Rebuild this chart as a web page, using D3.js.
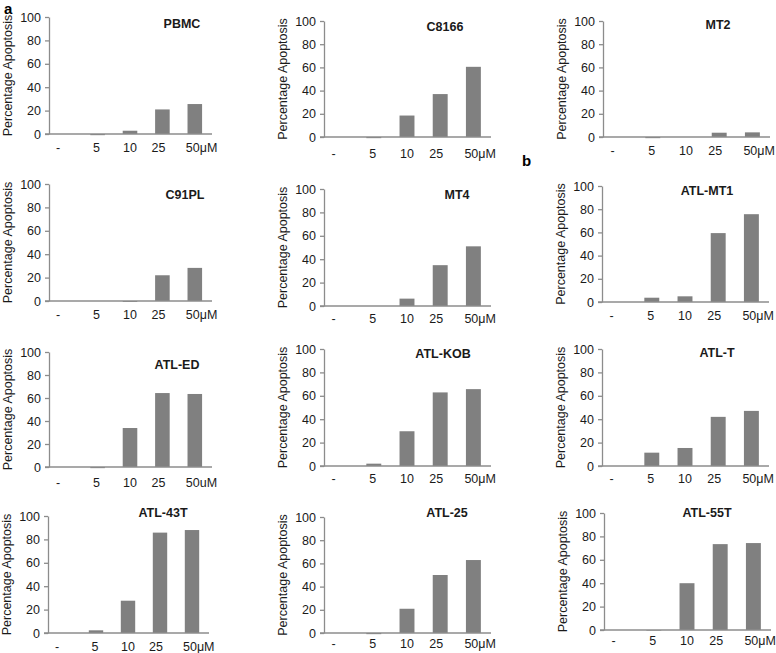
<!DOCTYPE html>
<html><head><meta charset="utf-8">
<script src="https://cdn.jsdelivr.net/npm/d3@7"></script>
<style>
html,body{margin:0;padding:0;background:#fff;}
svg{display:block;font-family:"Liberation Sans",Arial,sans-serif;}
</style></head>
<body><svg id="c" width="776" height="653"></svg>
<script>
// ---- data ----
const categories = ["-", "5", "10", "25", "50"];
const cellLines = ["PBMC","C8166","MT2","C91PL","MT4","ATL-MT1","ATL-ED","ATL-KOB","ATL-T","ATL-43T","ATL-25","ATL-55T"];
const unitSuffix = ["μM","μM","μM","μM","μM","μM","uM","μM","μM","μM","μM","μM"];
const valPBMC   = [0, -1, 2.8, 21, 25.6];
const valC8166  = [0, -1, 18.5, 37, 60.5];
const valMT2    = [0, -1, 0, 3.7, 4];
const valC91PL  = [0, 0, -0.8, 22, 28.3];
const valMT4    = [0, 0, 6.3, 34.9, 51];
const valATLMT1 = [0, 3.7, 4.9, 59.4, 75.7];
const valATLED  = [0, -1, 33.9, 64.3, 63.5];
const valATLKOB = [0, 2, 29.7, 62.9, 65.7];
const valATLT   = [0, 11.4, 15.4, 42, 47.1];
const valATL43T = [0, 2.3, 27.6, 85.8, 88];
const valATL25  = [0, -1, 20.9, 50, 62.9];
const valATL55T = [0, -0.5, 40, 73.4, 74.3];
const seriesValues = [valPBMC,valC8166,valMT2,valC91PL,valMT4,valATLMT1,valATLED,valATLKOB,valATLT,valATL43T,valATL25,valATL55T];
const yTicks = [0, 20, 40, 60, 80, 100];
const yTitle = "Percentage Apoptosis";
const panelLetters = ["a", "b"];

// ---- layout (positions / styles only) ----
const layout = [
  {x0:49,  top:17,  bot:134, w:162, tdx:133, tdy:7,  ldy:13},
  {x0:324, top:21,  bot:137, w:166, tdx:121, tdy:6,  ldy:16},
  {x0:603, top:21,  bot:137, w:166, tdx:115, tdy:4,  ldy:13},
  {x0:49,  top:184, bot:301, w:162, tdx:136, tdy:11, ldy:13},
  {x0:324, top:189, bot:306, w:166, tdx:133, tdy:6,  ldy:12},
  {x0:602, top:186, bot:302, w:166, tdx:105, tdy:5,  ldy:13},
  {x0:49,  top:352, bot:467, w:162, tdx:128, tdy:13, ldy:15},
  {x0:324, top:349, bot:466, w:166, tdx:119, tdy:5,  ldy:12},
  {x0:602, top:349, bot:466, w:166, tdx:115, tdy:4,  ldy:12},
  {x0:48,  top:516, bot:633, w:160, tdx:115, tdy:-3, ldy:13},
  {x0:324, top:517, bot:633, w:166, tdx:123, tdy:-4, ldy:10},
  {x0:604, top:513, bot:630, w:166, tdx:103, tdy:0,  ldy:10}
];
const labelShift = [-7, -1, 0, -4, -9];
const letterPos = [[4, 14], [522, 166]];
const barColor = "#808080", axisColor = "#8c8c8c", textColor = "#1a1a1a";
const fs = 12.5;

const svg = d3.select("#c");

cellLines.forEach((name, i) => {
  const L = layout[i];
  const vals = seriesValues[i];
  const x = d3.scaleBand().domain(categories).range([L.x0, L.x0 + L.w]).paddingInner(0.55).paddingOuter(0.275);
  const y = d3.scaleLinear().domain([0, 100]).range([L.bot, L.top]);
  const g = svg.append("g");

  // bars
  g.selectAll("rect").data(categories.map((c, k) => ({c, v: vals[k]}))).join("rect")
    .attr("x", d => x(d.c))
    .attr("width", x.bandwidth())
    .attr("y", d => Math.min(y(d.v), y(0)))
    .attr("height", d => Math.abs(y(d.v) - y(0)))
    .attr("fill", barColor);

  // y axis
  const ya = d3.axisLeft(y).tickValues(yTicks).tickSize(4).tickPadding(4).tickSizeOuter(0);
  const yg = g.append("g").attr("transform", `translate(${L.x0},0)`).call(ya);
  yg.select(".domain").attr("stroke", axisColor).attr("stroke-width", 1.3);
  yg.selectAll(".tick line").attr("stroke", axisColor).attr("stroke-width", 1.3);
  yg.selectAll(".tick text").attr("fill", textColor).style("font-size", fs + "px");

  // x axis line
  g.append("line").attr("x1", L.x0 - 4).attr("x2", L.x0 + L.w + 1)
    .attr("y1", y(0)).attr("y2", y(0)).attr("stroke", axisColor).attr("stroke-width", 1.3);

  // x labels
  categories.forEach((c, k) => {
    const cx = x(c) + x.bandwidth() / 2 + labelShift[k];
    const last = k === categories.length - 1;
    g.append("text").attr("x", cx).attr("y", y(0) + L.ldy + 4.5)
      .attr("text-anchor", last ? "start" : "middle")
      .attr("fill", textColor).style("font-size", fs + "px")
      .text(last ? c + unitSuffix[i] : c);
  });

  // y title
  const ym = (L.top + L.bot) / 2;
  g.append("text").attr("transform", `translate(${L.x0 - 41},${ym}) rotate(-90)`)
    .attr("text-anchor", "middle").attr("dy", "0.35em")
    .attr("fill", textColor).style("font-size", fs + "px").text(yTitle);

  // panel title
  g.append("text").attr("x", L.x0 + L.tdx).attr("y", L.top + L.tdy).attr("dy", "0.35em")
    .attr("text-anchor", "middle").attr("font-weight", "bold")
    .attr("fill", textColor).style("font-size", fs + "px").text(name);
});

panelLetters.forEach((t, i) => {
  svg.append("text").attr("x", letterPos[i][0]).attr("y", letterPos[i][1])
    .attr("font-weight", "bold").style("font-size", "15px").attr("fill", "#000").text(t);
});
</script></body></html>
